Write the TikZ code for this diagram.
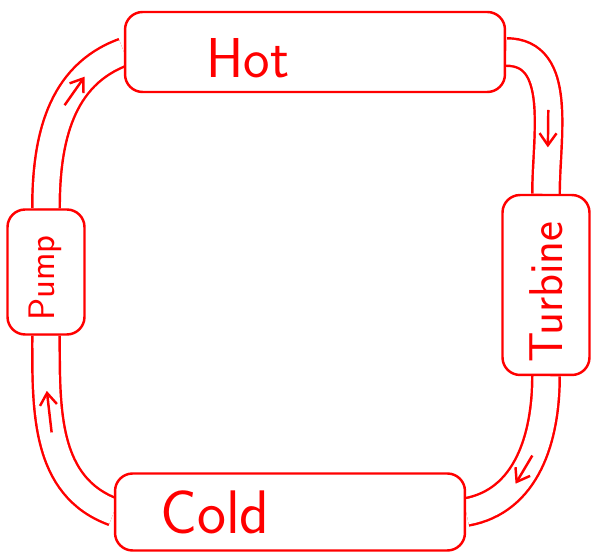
\documentclass[tikz,border=0pt]{standalone}
\usetikzlibrary{arrows.meta, positioning, calc, backgrounds}

\begin{document}
\begin{tikzpicture}[
    x=0.02cm, y=-0.02cm,
    box/.style={rectangle, draw=red, line width=1.4pt, rounded corners=10pt, fill=white},
    pipe/.style={draw=red, line width=1.4pt, double=white, double distance=0.5cm},
    flow/.style={-{Straight Barb[length=2.4mm, width=3.4mm]}, draw=red, line width=1.4pt},
    lbl/.style={text=red, font=\sffamily\fontsize{32}{34}\selectfont}
  ]
  \useasboundingbox (0,0) rectangle (596,553);

  \node[box, minimum width=7.6cm, minimum height=1.6cm] (hot) at (315,52) {};
  \node[box, minimum width=1.74cm, minimum height=3.6cm] (turbine) at (546,285) {};
  \node[box, minimum width=7cm, minimum height=1.54cm] (cold) at (290,512) {};
  \node[box, minimum width=1.54cm, minimum height=2.5cm] (pump) at (46,272) {};

  \node[lbl] (hotlbl) at (248,58) {Hot};
  \node[lbl, font=\sffamily\fontsize{35}{37}\selectfont] (coldlbl) at (215,512) {Cold};
  \node[lbl, rotate=90, font=\sffamily\fontsize{27}{29}\selectfont] (turbinelbl) at (546,292) {Turbine};
  \node[lbl, rotate=90, font=\sffamily\fontsize{21}{23}\selectfont] (pumplbl) at (45,278) {Pump};

  \begin{scope}[on background layer]
    \draw[pipe] (hot.east) to[out=0, in=90]
      coordinate[pos=.55] (f1a) coordinate[pos=.75] (f1b) (turbine.north);
    \draw[pipe] (turbine.south) to[out=-90, in=10]
      coordinate[pos=.45] (f2a) coordinate[pos=.65] (f2b) (cold.east);
    \draw[pipe] (cold.west) to[out=160, in=-90]
      coordinate[pos=.55] (f3a) coordinate[pos=.75] (f3b) (pump.south);
    \draw[pipe] (pump.north) to[out=90, in=200]
      coordinate[pos=.55] (f4a) coordinate[pos=.75] (f4b) (hot.west);
  \end{scope}

  % flow direction
  \draw[flow] (f1a) -- (f1b);
  \draw[flow] (f2a) -- (f2b);
  \draw[flow] (f3a) -- (f3b);
  \draw[flow] (f4a) -- (f4b);
\end{tikzpicture}
\end{document}
